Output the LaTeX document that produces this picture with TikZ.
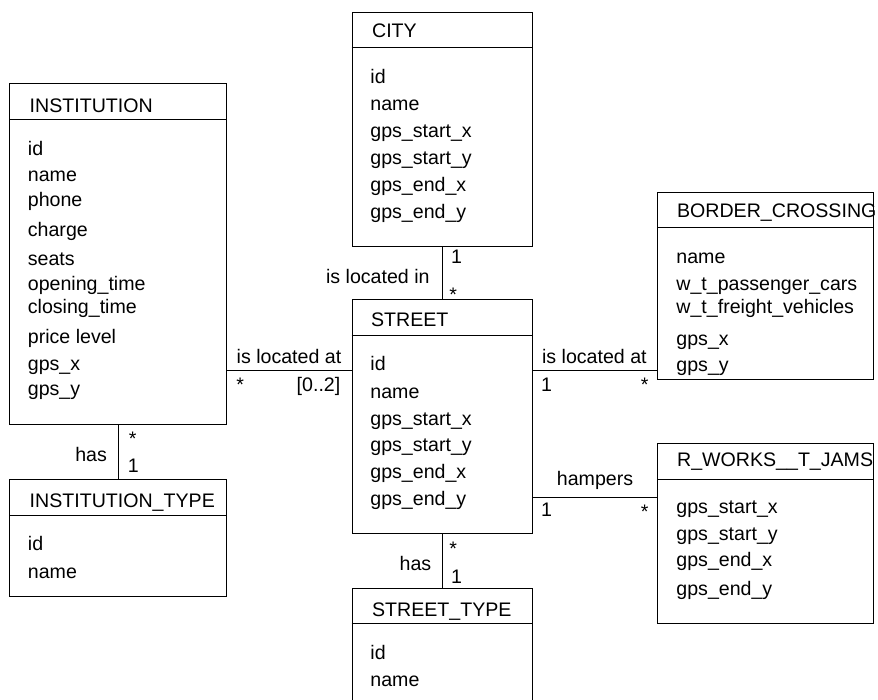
\documentclass[tikz,border=0pt]{standalone}
\usepackage{fontspec}
\setmainfont{Liberation Sans}
\begin{document}
\begin{tikzpicture}[x=1pt,y=-1pt,line width=0.8pt,
  box/.style={draw,rectangle,anchor=north west,inner sep=0pt},
  txt/.style={anchor=base west,inner sep=0pt,font=\fontsize{19.6}{19.6}\selectfont},
  rtxt/.style={anchor=base east,inner sep=0pt,font=\fontsize{19.6}{19.6}\selectfont},
  ctxt/.style={anchor=base,inner sep=0pt,font=\fontsize{19.6}{19.6}\selectfont}]
\useasboundingbox (0,0) rectangle (878,699);

% boxes
\node[box,minimum width=216.4pt,minimum height=341pt] (inst) at (9.3,83.3) {};
\draw ([yshift=-35.7pt]inst.north west) -- ([yshift=-35.7pt]inst.north east);
\node[box,minimum width=216.4pt,minimum height=116.7pt] (itype) at (9.3,479) {};
\draw ([yshift=-36.3pt]itype.north west) -- ([yshift=-36.3pt]itype.north east);
\node[box,minimum width=180pt,minimum height=234pt] (city) at (351.7,11.7) {};
\draw ([yshift=-35.6pt]city.north west) -- ([yshift=-35.6pt]city.north east);
\node[box,minimum width=180pt,minimum height=233.4pt] (street) at (351.7,299.3) {};
\draw ([yshift=-35.7pt]street.north west) -- ([yshift=-35.7pt]street.north east);
\node[box,minimum width=180pt,minimum height=130pt] (stype) at (351.7,587.7) {};
\draw ([yshift=-35.6pt]stype.north west) -- ([yshift=-35.6pt]stype.north east);
\node[box,minimum width=215.7pt,minimum height=187.6pt] (border) at (657.3,191.7) {};
\draw ([yshift=-35.6pt]border.north west) -- ([yshift=-35.6pt]border.north east);
\node[box,minimum width=215.7pt,minimum height=179.4pt] (rworks) at (657.3,443.3) {};
\draw ([yshift=-36pt]rworks.north west) -- ([yshift=-36pt]rworks.north east);

% INSTITUTION text
\node[txt] (instT) at (29.3,112.3) {INSTITUTION};
\node[txt] (i1) at (27.5,155) {id};
\node[txt] (i2) at (27.5,181.7) {name};
\node[txt] (i3) at (27.5,206.7) {phone};
\node[txt] (i4) at (27.5,236.7) {charge};
\node[txt] (i5) at (27.5,265) {seats};
\node[txt] (i6) at (27.5,290) {opening\_time};
\node[txt] (i7) at (27.5,313.3) {closing\_time};
\node[txt] (i8) at (27.5,343.3) {price level};
\node[txt] (i9) at (27.5,370) {gps\_x};
\node[txt] (i10) at (27.5,395) {gps\_y};

% INSTITUTION_TYPE text
\node[txt] (itT) at (29.3,507.3) {INSTITUTION\_TYPE};
\node[txt] (it1) at (27.5,550) {id};
\node[txt] (it2) at (27.5,578.3) {name};

% CITY text
\node[txt] (cT) at (371.7,37) {CITY};
\node[txt] (c1) at (370,83.3) {id};
\node[txt] (c2) at (370,110.3) {name};
\node[txt] (c3) at (370,137.3) {gps\_start\_x};
\node[txt] (c4) at (370,164.3) {gps\_start\_y};
\node[txt] (c5) at (370,191.3) {gps\_end\_x};
\node[txt] (c6) at (370,218.3) {gps\_end\_y};

% STREET text
\node[txt] (sT) at (370.7,326.7) {STREET};
\node[txt] (s1) at (370,370) {id};
\node[txt] (s2) at (370,398.3) {name};
\node[txt] (s3) at (370,425) {gps\_start\_x};
\node[txt] (s4) at (370,451.7) {gps\_start\_y};
\node[txt] (s5) at (370,478.3) {gps\_end\_x};
\node[txt] (s6) at (370,505) {gps\_end\_y};

% STREET_TYPE text
\node[txt] (stT) at (371.7,616.7) {STREET\_TYPE};
\node[txt] (st1) at (370,659.3) {id};
\node[txt] (st2) at (370,686.7) {name};

% BORDER_CROSSING text
\node[txt] (bT) at (676.7,217.3) {BORDER\_CROSSING};
\node[txt] (b1) at (676,263.5) {name};
\node[txt] (b2) at (676,290.5) {w\_t\_passenger\_cars};
\node[txt] (b3) at (676,313.8) {w\_t\_freight\_vehicles};
\node[txt] (b4) at (676,345) {gps\_x};
\node[txt] (b5) at (676,371.7) {gps\_y};

% R_WORKS__T_JAMS text
\node[txt] (rT) at (676.7,466.7) {R\_WORKS\_\_T\_JAMS};
\node[txt] (r1) at (676,513.3) {gps\_start\_x};
\node[txt] (r2) at (676,540) {gps\_start\_y};
\node[txt] (r3) at (676,566.7) {gps\_end\_x};
\node[txt] (r4) at (676,595) {gps\_end\_y};

% connectors
\coordinate (yLoc) at (0,370.7);
\coordinate (yHam) at (0,497.3);
\draw (inst.east |- yLoc) -- (street.west |- yLoc);
\draw (street.east |- yLoc) -- (border.west |- yLoc);
\draw (street.east |- yHam) -- (rworks.west |- yHam);
\draw (city.south) -- (street.north);
\draw (street.south) -- (stype.north);
\draw (inst.south) -- (itype.north);

% connector labels
\node[rtxt] (lA) at (341.7,363.3) {is located at};
\node[txt] (lAs) at (236,391.7) {*};
\node[rtxt] (lAm) at (340.7,391.7) {[0..2]};

\node[txt] (lB) at (541.7,363.3) {is located at};
\node[txt] (lB1) at (540.7,391.7) {1};
\node[txt] (lBs) at (640.5,391.7) {*};

\node[ctxt] (lC) at (595,485) {hampers};
\node[txt] (lC1) at (540.7,516.7) {1};
\node[txt] (lCs) at (640.5,518.5) {*};

\node[rtxt] (lD) at (430,283.3) {is located in};
\node[txt] (lD1) at (450.7,263.3) {1};
\node[txt] (lDs) at (449,301) {*};

\node[rtxt] (lE) at (431.7,570) {has};
\node[txt] (lEs) at (449,555) {*};
\node[txt] (lE1) at (450.7,583.3) {1};

\node[rtxt] (lF) at (107.3,461) {has};
\node[txt] (lFs) at (128.5,445) {*};
\node[txt] (lF1) at (127.5,472.7) {1};
\end{tikzpicture}
\end{document}
